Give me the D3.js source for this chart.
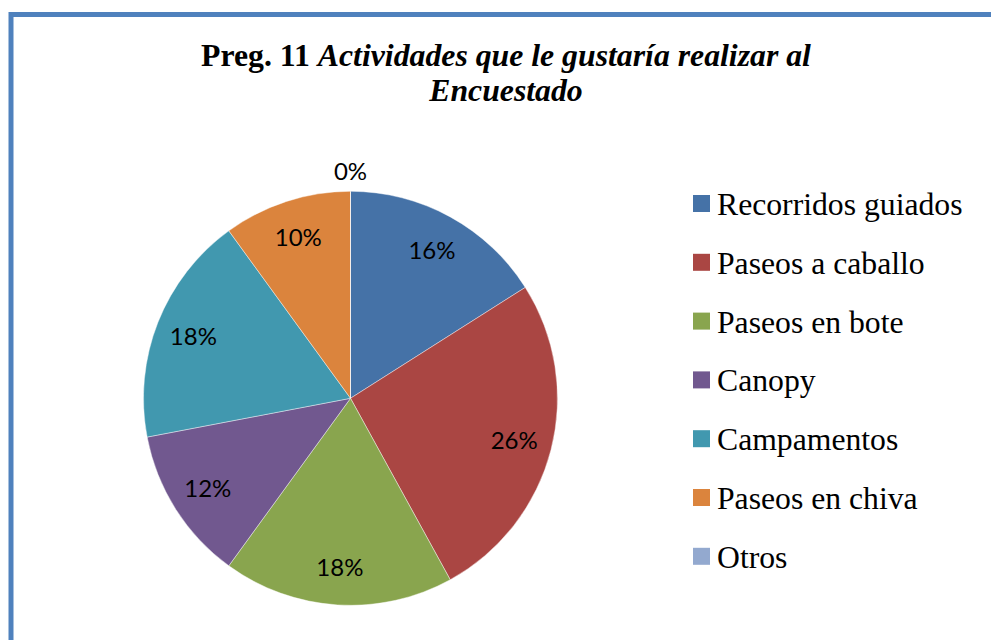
<!DOCTYPE html>
<html><head><meta charset="utf-8">
<script src="https://cdn.jsdelivr.net/npm/d3@7"></script>
<style>html,body{margin:0;padding:0;background:#fff;}svg{display:block;}</style>
</head><body>
<svg id="chart" width="991" height="640"></svg>
<script>
const categories = ["Recorridos guiados","Paseos a caballo","Paseos en bote","Canopy","Campamentos","Paseos en chiva","Otros"];
const values = [16, 26, 18, 12, 18, 10, 0];
const colors = ["#4572A7","#AA4643","#89A54E","#71588F","#4198AF","#DB843D","#93A9CF"];
const titleBold = "Preg. 11 ";
const titleItalic = "Actividades que le gustaría realizar al";
const titleLine2 = "Encuestado";

const svg = d3.select("#chart");

// frame border
svg.append("rect").attr("x",11).attr("y",14.5).attr("width",1100).attr("height",800)
  .attr("fill","none").attr("stroke","#4F81BD").attr("stroke-width",5);

// title
const cx = 506;
const t1 = svg.append("text").attr("text-anchor","middle")
  .attr("font-family","'Liberation Serif','Times New Roman',serif").attr("font-size",32).attr("font-weight","bold").attr("fill","#000");
t1.append("tspan").text(titleBold);
t1.append("tspan").attr("font-style","italic").text(titleItalic);
const w1 = t1.node().getComputedTextLength();
const sx = 610 / w1;
t1.attr("transform",`translate(${cx},66) scale(${sx},1)`);
svg.append("text").attr("text-anchor","middle")
  .attr("font-family","'Liberation Serif','Times New Roman',serif").attr("font-size",32).attr("font-weight","bold").attr("font-style","italic").attr("fill","#000")
  .attr("transform",`translate(${cx},101) scale(${sx},1)`)
  .text(titleLine2);

// pie
const center = [350.5, 398.3];
const R = 207;
const pie = d3.pie().sort(null).value(d => d)(values);
const arc = d3.arc().innerRadius(0).outerRadius(R);
const g = svg.append("g").attr("transform",`translate(${center[0]},${center[1]})`);
g.selectAll("path").data(pie).join("path")
  .attr("d",arc).attr("fill",(d,i)=>colors[i])
  .attr("stroke","#fff").attr("stroke-width",0.6).attr("stroke-opacity",0.7);

const labelArc = d3.arc().innerRadius(169).outerRadius(169);
const outerArc = d3.arc().innerRadius(R+20).outerRadius(R+20);
const fmt = d3.format(".0%");
const total = d3.sum(values);
g.selectAll("text.lbl").data(pie).join("text").attr("class","lbl")
  .attr("transform",d => `translate(${(d.value===0?outerArc:labelArc).centroid(d)})`)
  .attr("text-anchor","middle").attr("dy","0.36em")
  .attr("font-family","Lato,'Open Sans',sans-serif").attr("font-size",24).attr("fill","#000")
  .text(d => fmt(d.value/total));

// legend
const lg = svg.append("g");
const rowY = d3.scaleLinear().domain([0,1]).range([215, 215+58.8]);
categories.forEach((c,i) => {
  const y = rowY(i);
  lg.append("rect").attr("x",693).attr("y",y-20).attr("width",17).attr("height",17).attr("fill",colors[i]);
  lg.append("text").attr("x",717).attr("y",y)
    .attr("font-family","'Liberation Serif','Times New Roman',serif").attr("font-size",31.7).attr("fill","#000")
    .text(c);
});
</script>
</body></html>
